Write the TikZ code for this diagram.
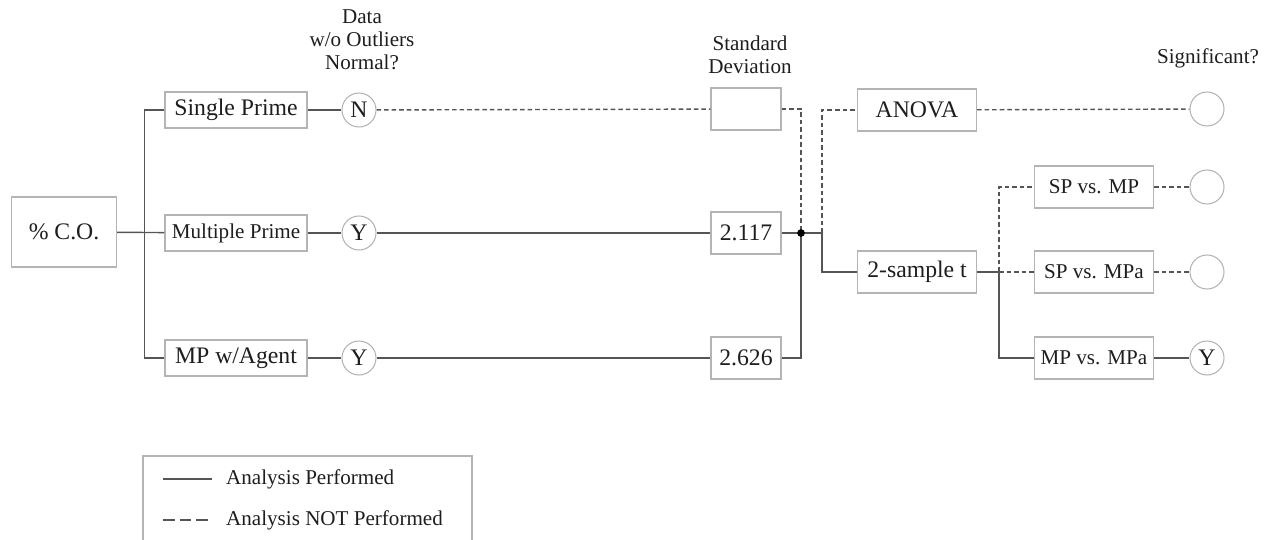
\documentclass[tikz,border=0pt]{standalone}
\usepackage{fontspec}
\setmainfont{Liberation Serif}
\usetikzlibrary{positioning,calc}

\definecolor{boxgray}{HTML}{B4B4B4}
\definecolor{linegray}{HTML}{555555}
\definecolor{txtgray}{HTML}{1E1E1E}

\tikzset{
  box/.style={draw=boxgray, line width=0.6pt, fill=white, text=txtgray,
    inner sep=2pt, minimum width=2.84cm, minimum height=0.72cm},
  big/.style={font=\fontsize{13.5}{15}\selectfont},
  sdbox/.style={box, big, minimum width=1.4cm, minimum height=0.84cm},
  testbox/.style={box, minimum width=2.38cm, minimum height=0.84cm},
  answer/.style={circle, draw=boxgray, line width=0.6pt, fill=white, text=txtgray,
    big, inner sep=0pt, minimum size=0.68cm},
  head/.style={align=center, text=txtgray},
  done/.style={draw=linegray, line width=0.8pt},
  notdone/.style={draw=linegray, line width=0.8pt, dash pattern=on 2.6pt off 1.7pt},
}

\begin{document}
\begin{tikzpicture}[x=0.02cm, y=-0.02cm, every node/.style={font=\fontsize{12}{13}\selectfont}]
    \useasboundingbox (0,0) rectangle (1270,540);

    % Column headings
    \node[head] (hnorm) at (362,40) {Data\\w/o Outliers\\Normal?};
    \node[head] (hsd)   at (750,55) {Standard\\Deviation};
    \node[head] (hsig)  at (1208,58) {Significant?};

    % Response and groups
    \node[box, big, minimum width=2.1cm, minimum height=1.4cm] (co) at (64,232) {\% C.O.};
    \node[box, big] (sp)  at (236,110) {Single Prime};
    \node[box] (mp)  at (236,233) {Multiple Prime};
    \node[box, big] (mpa) at (236,358) {MP w/Agent};

    % Normality answers
    \node[answer] (nsp)  at (359,110) {N};
    \node[answer] (nmp)  at (359,233) {Y};
    \node[answer] (nmpa) at (359,358) {Y};

    % Standard deviations
    \node[sdbox] (sdsp)  at (746,109) {};
    \node[sdbox] (sdmp)  at (746,233) {2.117};
    \node[sdbox] (sdmpa) at (746,358) {2.626};

    % Tests
    \node[testbox, big] (anova) at (917,110) {ANOVA};
    \node[testbox, big] (ttest) at (917,272) {2-sample t};
    \node[testbox] (spmp)    at (1094,187) {SP vs. MP};
    \node[testbox] (spmpa)   at (1094,272) {SP vs. MPa};
    \node[testbox] (mpmpa)   at (1094,358) {MP vs. MPa};

    % Significance answers
    \node[answer] (sanova) at (1207,109) {};
    \node[answer] (sspmp)  at (1207,187) {};
    \node[answer] (sspmpa) at (1207,272) {};
    \node[answer] (smpmpa) at (1207,358) {Y};

    \coordinate (join)  at (801,233);
    \coordinate (split) at (822,233);
    \coordinate (tsplit) at (999,272);

    % Connectors
    \draw[done] (co) -- (mp);
    \draw[done] (sp.west) -- ++(-20,0) |- (mpa.west);
    \draw[done] (sp) -- (nsp);
    \draw[done] (mp) -- (nmp);
    \draw[done] (mpa) -- (nmpa);

    \draw[notdone] (nsp) -- (sdsp);
    \draw[done] (nmp) -- (sdmp);
    \draw[done] (nmpa) -- (sdmpa);

    \draw[notdone] (sdsp.east) -| (join);
    \draw[done] (sdmpa.east) -| (join);
    \draw[done] (sdmp.east) -- (join) -- (split);
    \fill[black] (join) circle (2.2pt);

    \draw[notdone] (split) |- (anova.west);
    \draw[done] (split) |- (ttest.west);
    \draw[notdone] (anova) -- (sanova);

    \draw[done] (ttest.east) -- (tsplit);
    \draw[notdone] (tsplit) |- (spmp.west);
    \draw[notdone] (tsplit) -- (spmpa.west);
    \draw[done] (tsplit) |- (mpmpa.west);

    \draw[notdone] (spmp) -- (sspmp);
    \draw[notdone] (spmpa) -- (sspmpa);
    \draw[done] (mpmpa) -- (smpmpa);

    % Legend
    \draw[boxgray, line width=0.6pt] (143,545) |- (472,456) -- (472,545);
    \coordinate (la) at (163,479);
    \coordinate (lb) at (212,479);
    \coordinate (lc) at (163,520);
    \coordinate (ld) at (212,520);
    \draw[done] (la) -- (lb);
    \draw[linegray, line width=0.9pt, dash pattern=on 6.6pt off 2.8pt] (lc) -- (ld);
    \node[anchor=west, text=txtgray] (lperf) at (220,479) {Analysis Performed};
    \node[anchor=west, text=txtgray] (lnot)  at (220,520) {Analysis NOT Performed};
\end{tikzpicture}
\end{document}
